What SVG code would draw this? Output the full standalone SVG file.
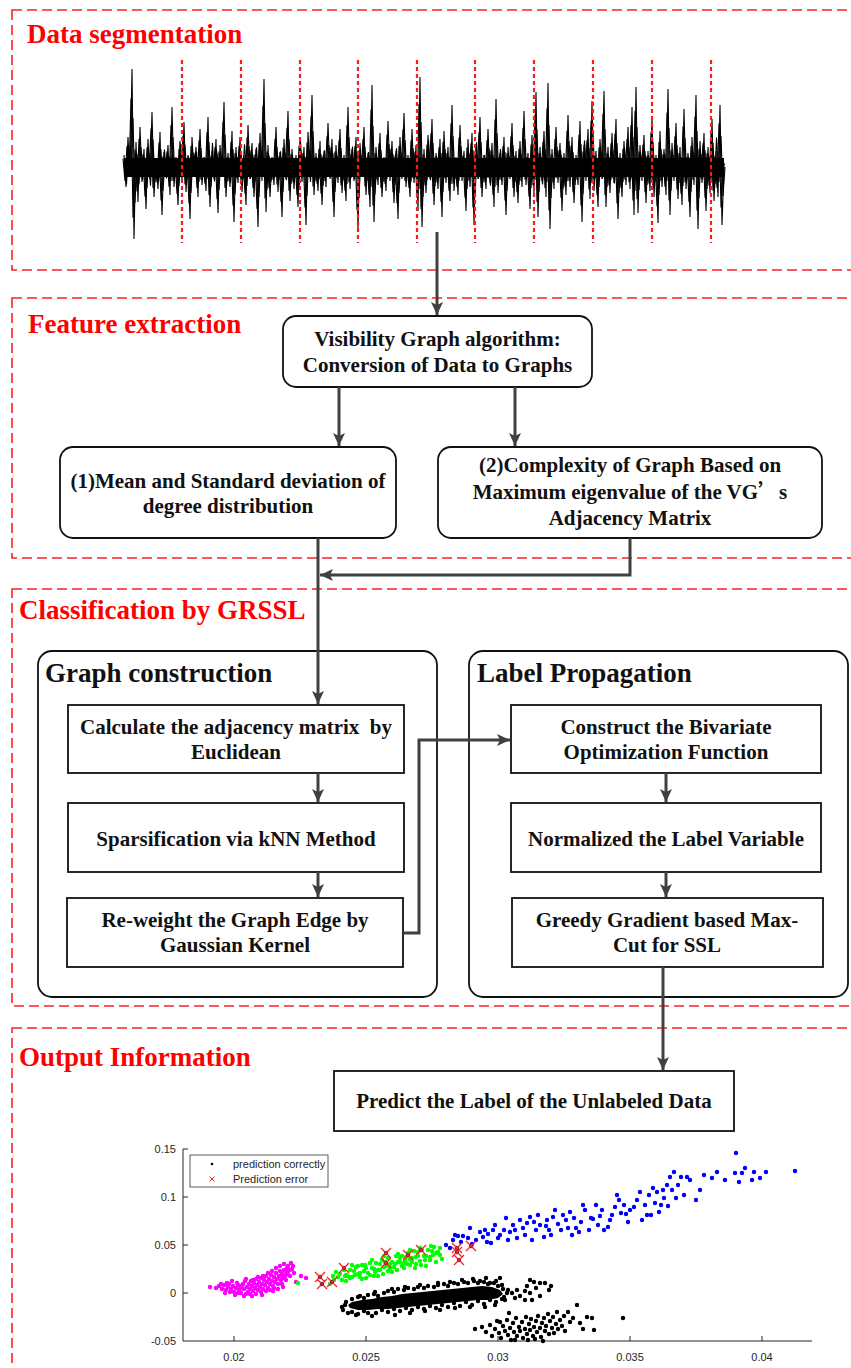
<svg xmlns="http://www.w3.org/2000/svg" xmlns:xlink="http://www.w3.org/1999/xlink" width="851" height="1368" viewBox="0 0 851 1368">
<style>
.sec{fill:none;stroke:#ff2020;stroke-width:1.6;stroke-dasharray:10 5}
.stitle{font-family:"Liberation Serif","Times New Roman",serif;font-weight:bold;font-size:27px;fill:#ff0000}
.ptitle{font-family:"Liberation Serif","Times New Roman",serif;font-weight:bold;font-size:27px;fill:#111}
.bt{font-family:"Liberation Serif","Times New Roman",serif;font-weight:bold;font-size:21px;fill:#111;text-anchor:middle}
.box{fill:#fff;stroke:#111;stroke-width:1.8}
.conn{fill:none;stroke:#404040;stroke-width:3}
.ax{font-family:"Liberation Sans",Arial,sans-serif;font-size:11px;fill:#262626}
.dots{fill:none;stroke-linecap:round;stroke-width:4.4}
</style>
<defs>
<marker id="ah" markerUnits="userSpaceOnUse" markerWidth="14" markerHeight="12" refX="13" refY="6" orient="auto">
<path d="M0,0 L13,6 L0,12 L3,6 z" fill="#404040"/>
</marker>
<polyline id="sig" fill="none" stroke="#000" stroke-width="1.1" stroke-linejoin="bevel" vector-effect="non-scaling-stroke" points="124,155 126,187 128,137 130,177 132,69 134,239 136,142 138,202 140,127 142,182 144,149 146,209 148,139 150,179 152,112 154,197 156,159 158,189 160,132 162,215 164,152 166,177 168,145 170,195 172,107 174,187 176,157 178,205 180,141 182,181 184,122 186,192 188,155 190,219 192,137 194,175 196,147 198,197 200,129 202,185 204,157 206,191 208,117 210,207 212,151 214,179 216,139 218,213 220,145 222,177 224,102 226,197 228,153 230,187 232,131 234,222 236,147 238,183 240,137 242,192 244,155 246,205 248,125 250,179 252,143 254,197 256,149 258,227 260,133 262,181 264,79 266,212 268,145 270,197 272,157 274,185 276,127 278,192 280,152 282,217 284,139 286,179 288,111 290,201 292,149 294,189 296,155 298,207 300,137 302,182 304,147 306,225 308,132 310,177 312,95 314,195 316,153 318,191 320,141 322,205 324,151 326,187 328,123 330,179 332,139 334,217 336,145 338,183 340,129 342,193 344,155 346,201 348,107 350,189 352,149 354,181 356,137 358,229 360,143 362,177 364,127 366,195 368,153 370,207 372,85 374,222 376,147 378,185 380,133 382,197 384,157 386,191 388,121 390,181 392,141 394,203 396,151 398,219 400,137 402,179 404,113 406,187 408,155 410,197 412,129 414,183 416,145 418,211 420,77 422,227 424,149 426,193 428,135 430,179 432,119 434,205 436,153 438,189 440,139 442,217 444,131 446,183 448,147 450,201 452,105 454,191 456,157 458,195 460,125 462,181 464,151 466,211 468,139 470,187 472,133 474,225 476,145 478,179 480,117 482,197 484,155 486,189 488,129 490,183 492,143 494,207 496,99 498,193 500,153 502,185 504,137 506,215 508,147 510,179 512,123 514,197 516,151 518,203 520,141 522,187 524,111 526,185 528,153 530,209 532,135 534,193 536,92 538,217 540,147 542,181 544,131 546,197 548,83 550,229 552,149 554,189 556,127 558,183 560,143 562,211 564,153 566,195 568,115 570,187 572,137 574,203 576,155 578,185 580,121 582,222 584,145 586,181 588,129 590,199 592,101 594,191 596,151 598,207 600,139 602,179 604,91 606,207 608,147 610,193 612,133 614,183 616,119 618,219 620,153 622,197 624,141 626,185 628,127 630,189 632,107 634,215 636,87 638,213 640,145 642,181 644,135 646,203 648,151 650,191 652,117 654,197 656,155 658,223 660,131 662,187 664,149 666,195 668,89 670,215 672,143 674,181 676,123 678,199 680,147 682,205 684,109 686,189 688,153 690,217 692,137 694,185 696,95 698,229 700,141 702,183 704,133 706,211 708,147 710,193 712,119 714,201 716,151 718,197 720,105 722,225 724,167"/>
</defs>
<rect width="851" height="1368" fill="#fff"/>

<g id="sections">
<rect class="sec" x="12" y="10" width="870" height="260"/>
<rect class="sec" x="12" y="298" width="870" height="260"/>
<rect class="sec" x="12" y="589" width="870" height="417"/>
<rect class="sec" x="12" y="1028" width="870" height="400"/>
<text class="stitle" x="27" y="43">Data segmentation</text>
<text class="stitle" x="28" y="333">Feature extraction</text>
<text class="stitle" x="19" y="619">Classification by GRSSL</text>
<text class="stitle" x="19" y="1066">Output Information</text>
</g>

<g id="signal">
<rect x="124" y="158" width="600" height="19" fill="#000"/>
<use xlink:href="#sig" href="#sig"/>
<use xlink:href="#sig" href="#sig" transform="translate(1,83.5) scale(1,0.5)"/>
<use xlink:href="#sig" href="#sig" transform="translate(-1,50.1) scale(1,0.7)"/>
<use xlink:href="#sig" href="#sig" transform="translate(0.5,116.9) scale(-1,0.3) translate(-848,0)"/>
<path d="M182 60V243M241 60V243M300 60V243M358 60V243M417 60V243M475 60V243M534 60V243M593 60V243M652 60V243M711 60V243" stroke="#ff1a1a" stroke-width="2.2" stroke-dasharray="4 3"/>
</g>

<g id="node-vg">
<rect class="box" x="283" y="316" width="309" height="71" rx="13"/>
<text class="bt" x="437.5" y="346">Visibility Graph algorithm:</text>
<text class="bt" x="437.5" y="372">Conversion of Data to Graphs</text>
</g>
<g id="node-mean">
<rect class="box" x="60" y="447" width="336" height="91" rx="13"/>
<text class="bt" x="228" y="488">(1)Mean and Standard deviation of</text>
<text class="bt" x="228" y="513">degree distribution</text>
</g>
<g id="node-complexity">
<rect class="box" x="438" y="447" width="384" height="91" rx="13"/>
<text class="bt" x="630" y="472">(2)Complexity of Graph Based on</text>
<text class="bt" x="630" y="499">Maximum eigenvalue of the VG<tspan font-family="'Noto Sans CJK SC',sans-serif">’</tspan>s</text>
<text class="bt" x="630" y="525">Adjacency Matrix</text>
</g>

<g id="panel-graph">
<rect class="box" x="38" y="651" width="399" height="346" rx="14"/>
<text class="ptitle" x="45" y="682">Graph construction</text>
</g>
<g id="panel-label">
<rect class="box" x="469" y="651" width="379" height="346" rx="14"/>
<text class="ptitle" x="477" y="682">Label Propagation</text>
</g>

<g id="node-calc">
<rect class="box" x="68" y="705" width="336" height="68"/>
<text class="bt" x="236" y="734">Calculate the adjacency matrix&#160; by</text>
<text class="bt" x="236" y="759">Euclidean</text>
</g>
<g id="node-sparse">
<rect class="box" x="68" y="803" width="336" height="69"/>
<text class="bt" x="236" y="846">Sparsification via kNN Method</text>
</g>
<g id="node-reweight">
<rect class="box" x="67" y="898" width="336" height="69"/>
<text class="bt" x="235" y="927">Re-weight the Graph Edge by</text>
<text class="bt" x="235" y="952">Gaussian Kernel</text>
</g>
<g id="node-construct">
<rect class="box" x="511" y="705" width="310" height="68"/>
<text class="bt" x="666" y="734">Construct the Bivariate</text>
<text class="bt" x="666" y="759">Optimization Function</text>
</g>
<g id="node-normalized">
<rect class="box" x="511" y="803" width="310" height="69"/>
<text class="bt" x="666" y="846">Normalized the Label Variable</text>
</g>
<g id="node-greedy">
<rect class="box" x="512" y="898" width="311" height="69"/>
<text class="bt" x="667" y="927">Greedy Gradient based Max-</text>
<text class="bt" x="667" y="952">Cut for SSL</text>
</g>
<g id="node-predict">
<rect class="box" x="334" y="1071" width="400" height="60"/>
<text class="bt" x="534" y="1108">Predict the Label of the Unlabeled Data</text>
</g>

<g id="connectors">
<path class="conn" d="M437 232V315" marker-end="url(#ah)"/>
<path class="conn" d="M339 387V446" marker-end="url(#ah)"/>
<path class="conn" d="M515 387V446" marker-end="url(#ah)"/>
<path class="conn" d="M318 538V704" marker-end="url(#ah)"/>
<path class="conn" d="M630 538V575H320" marker-end="url(#ah)"/>
<path class="conn" d="M318 773V802" marker-end="url(#ah)"/>
<path class="conn" d="M318 872V897" marker-end="url(#ah)"/>
<path class="conn" d="M403 933H419V740H510" marker-end="url(#ah)"/>
<path class="conn" d="M666 773V802" marker-end="url(#ah)"/>
<path class="conn" d="M666 872V897" marker-end="url(#ah)"/>
<path class="conn" d="M663 967V1070" marker-end="url(#ah)"/>
</g>

<g id="scatter">
<path d="M183 1149V1341H812M183 1149h5M183 1197h5M183 1245h5M183 1293h5M234 1341v-5M366 1341v-5M498 1341v-5M630 1341v-5M762 1341v-5" fill="none" stroke="#262626" stroke-width="1"/>
<text class="ax" x="176" y="1153" text-anchor="end">0.15</text>
<text class="ax" x="176" y="1201" text-anchor="end">0.1</text>
<text class="ax" x="176" y="1249" text-anchor="end">0.05</text>
<text class="ax" x="176" y="1297" text-anchor="end">0</text>
<text class="ax" x="176" y="1345" text-anchor="end">-0.05</text>
<text class="ax" x="234" y="1361" text-anchor="middle">0.02</text>
<text class="ax" x="366" y="1361" text-anchor="middle">0.025</text>
<text class="ax" x="498" y="1361" text-anchor="middle">0.03</text>
<text class="ax" x="630" y="1361" text-anchor="middle">0.035</text>
<text class="ax" x="762" y="1361" text-anchor="middle">0.04</text>

<path class="dots" stroke="#ff00ff" d="M210 1287h0M216 1288h0M219 1286h0M222 1289h0M224 1285h0M226 1290h0M228 1287h0M229 1284h0M231 1289h0M233 1286h0M234 1292h0M236 1288h0M237 1283h0M239 1290h0M240 1286h0M241 1293h0M243 1284h0M244 1289h0M245 1281h0M247 1287h0M248 1292h0M249 1284h0M250 1289h0M251 1281h0M252 1286h0M253 1291h0M254 1283h0M255 1288h0M256 1279h0M257 1285h0M258 1290h0M259 1282h0M260 1287h0M261 1278h0M262 1284h0M263 1289h0M264 1280h0M265 1285h0M266 1276h0M267 1282h0M268 1288h0M269 1279h0M270 1284h0M271 1275h0M272 1281h0M273 1286h0M274 1277h0M275 1282h0M276 1273h0M277 1279h0M278 1284h0M279 1276h0M280 1271h0M281 1280h0M282 1274h0M283 1278h0M284 1270h0M285 1276h0M286 1272h0M287 1268h0M288 1274h0M289 1270h0M290 1276h0M292 1269h0M294 1273h0M296 1282h0M301 1276h0M306 1278h0M221 1284h0M225 1293h0M227 1283h0M230 1292h0M232 1281h0M235 1295h0M238 1285h0M242 1288h0M246 1294h0M246 1279h0M250 1294h0M253 1280h0M256 1294h0M258 1277h0M261 1292h0M263 1276h0M266 1291h0M268 1273h0M270 1290h0M272 1271h0M274 1288h0M276 1268h0M278 1289h0M280 1266h0M282 1284h0M284 1264h0M286 1280h0M288 1266h0M290 1270h0M291 1263h0M293 1266h0M283 1287h0M273 1291h0M262 1295h0M252 1296h0M244 1296h0M238 1293h0"/>
<path class="dots" stroke="#00ff00" d="M298 1283h0M334 1280h0M336 1272h0M338 1277h0M340 1274h0M342 1280h0M344 1270h0M346 1275h0M348 1276h0M350 1270h0M352 1277h0M354 1271h0M356 1267h0M358 1274h0M360 1273h0M362 1265h0M364 1271h0M366 1268h0M368 1273h0M370 1263h0M372 1268h0M374 1269h0M376 1263h0M378 1270h0M380 1264h0M382 1260h0M384 1267h0M386 1266h0M388 1258h0M390 1264h0M392 1262h0M394 1267h0M396 1256h0M398 1262h0M400 1262h0M402 1256h0M404 1263h0M406 1257h0M408 1253h0M410 1259h0M412 1258h0M414 1251h0M416 1257h0M418 1256h0M420 1261h0M422 1250h0M424 1256h0M426 1256h0M428 1250h0M430 1257h0M432 1251h0M434 1247h0M436 1253h0M438 1252h0M440 1248h0M345 1276h0M355 1275h0M365 1265h0M375 1272h0M385 1262h0M395 1264h0M405 1260h0M412 1262h0M418 1252h0M425 1260h0M433 1255h0M370 1275h0M360 1277h0M380 1270h0M390 1268h0M400 1258h0M350 1278h0M388 1271h0M402 1266h0M410 1265h0M416 1264h0M430 1260h0M440 1255h0M330 1284h0M333 1276h0M346 1281h0M352 1265h0M358 1266h0M366 1278h0M372 1260h0M378 1276h0M384 1256h0M392 1272h0M398 1254h0M404 1268h0M410 1250h0M415 1268h0M420 1248h0M426 1266h0M431 1246h0M436 1262h0M442 1259h0M397 1270h0M383 1274h0M374 1276h0M362 1279h0M407 1264h0M421 1265h0"/>
<path class="dots" stroke="#0000ff" d="M446 1245h0M453 1240h0M461 1242h0M468 1238h0M470 1228h0M476 1240h0M483 1237h0M485 1230h0M491 1243h0M493 1230h0M498 1238h0M504 1230h0M506 1218h0M513 1225h0M517 1238h0M523 1228h0M530 1217h0M532 1240h0M536 1230h0M540 1225h0M544 1237h0M549 1230h0M553 1217h0M555 1210h0M561 1230h0M566 1220h0M570 1212h0M572 1235h0M576 1228h0M581 1222h0M585 1210h0M589 1230h0M596 1205h0M604 1230h0M608 1227h0M615 1207h0M619 1200h0M621 1213h0M630 1210h0M634 1207h0M640 1192h0M642 1220h0M647 1215h0M649 1195h0M653 1188h0M655 1203h0M659 1212h0M664 1198h0M670 1177h0M674 1172h0M676 1198h0M681 1177h0M687 1177h0M696 1200h0M704 1175h0M717 1172h0M736 1153h0M735 1173h0M739 1182h0M742 1173h0M752 1180h0M754 1172h0M766 1172h0M795 1171h0M458 1236h0M488 1234h0M510 1232h0M527 1223h0M546 1226h0M558 1224h0M593 1219h0M600 1216h0M612 1215h0M626 1214h0M663 1190h0M668 1206h0M450 1248h0M455 1235h0M463 1236h0M472 1244h0M480 1232h0M487 1242h0M495 1225h0M500 1235h0M508 1240h0M515 1230h0M520 1220h0M525 1235h0M534 1222h0M538 1215h0M547 1220h0M551 1235h0M563 1215h0M568 1228h0M574 1218h0M579 1232h0M583 1205h0M591 1218h0M598 1225h0M602 1210h0M610 1220h0M617 1195h0M624 1205h0M628 1222h0M637 1200h0M645 1205h0M651 1215h0M657 1192h0M661 1205h0M667 1185h0M672 1190h0M678 1185h0M684 1195h0M690 1180h0M700 1190h0M712 1178h0M725 1180h0M745 1168h0M760 1178h0"/>
<polygon fill="#000" points="352,1302 362,1300 372,1299 382,1297 392,1296 402,1294 412,1293 422,1292 432,1291 442,1290 452,1289 462,1288 472,1287 482,1286 492,1287 500,1290 503,1294 498,1298 488,1300 478,1300 468,1301 458,1302 448,1303 438,1304 428,1305 418,1306 408,1307 398,1308 388,1309 378,1309 368,1310 358,1310 350,1308 348,1305"/>
<path class="dots" stroke="#000" d="M352 1299h0M358 1297h0M364 1298h0M368 1295h0M374 1294h0M378 1296h0M384 1293h0M388 1291h0M394 1292h0M398 1289h0M404 1290h0M408 1288h0M414 1289h0M418 1287h0M424 1288h0M428 1286h0M434 1287h0M438 1285h0M444 1284h0M448 1286h0M454 1283h0M458 1284h0M464 1282h0M468 1283h0M474 1281h0M478 1283h0M484 1282h0M488 1284h0M494 1283h0M498 1286h0M503 1289h0M507 1293h0M504 1297h0M352 1312h0M358 1314h0M364 1311h0M368 1313h0M376 1313h0M382 1310h0M388 1312h0M394 1309h0M400 1311h0M406 1308h0M412 1310h0M418 1307h0M424 1309h0M430 1306h0M436 1308h0M442 1305h0M448 1307h0M454 1303h0M460 1306h0M466 1302h0M472 1305h0M478 1301h0M484 1304h0M490 1300h0M496 1302h0M502 1299h0M346 1302h0M342 1307h0M345 1305h0M343 1310h0M348 1313h0M356 1315h0M372 1316h0M395 1315h0M410 1313h0M360 1296h0M375 1292h0M392 1289h0M405 1287h0M420 1285h0M438 1283h0M450 1282h0M462 1280h0M473 1279h0M480 1281h0M490 1283h0M496 1281h0M502 1285h0M508 1290h0M512 1293h0M515 1298h0M520 1296h0M525 1291h0M530 1293h0M532 1300h0M536 1288h0M540 1296h0M545 1283h0M549 1290h0M551 1286h0M527 1286h0M517 1290h0M505 1300h0M495 1305h0M485 1307h0M470 1307h0M455 1308h0M440 1310h0M425 1311h0M500 1278h0M486 1278h0M525 1300h0M540 1283h0M530 1280h0M534 1282h0M475 1329h0M482 1327h0M486 1332h0M490 1325h0M492 1336h0M495 1329h0M497 1321h0M499 1333h0M501 1338h0M503 1326h0M505 1331h0M507 1320h0M508 1335h0M510 1328h0M511 1340h0M513 1323h0M514 1332h0M516 1318h0M517 1336h0M519 1327h0M520 1331h0M522 1322h0M523 1338h0M525 1329h0M526 1317h0M527 1334h0M529 1324h0M530 1330h0M531 1319h0M533 1336h0M534 1327h0M536 1321h0M537 1332h0M538 1316h0M540 1328h0M541 1337h0M542 1323h0M544 1318h0M545 1331h0M546 1326h0M548 1314h0M549 1334h0M550 1321h0M552 1328h0M553 1317h0M554 1333h0M556 1324h0M557 1312h0M558 1329h0M560 1320h0M562 1326h0M564 1316h0M565 1331h0M568 1312h0M570 1322h0M573 1318h0M577 1305h0M580 1323h0M583 1329h0M587 1317h0M592 1318h0M594 1330h0M623 1318h0M509 1313h0M543 1341h0M500 1322h0M515 1340h0M528 1340h0M535 1339h0"/>
<path class="dots" stroke="#3a2a6a" stroke-width="4" d="M320 1277h0M322 1284h0M332 1282h0M344 1268h0M386 1253h0M386 1263h0M408 1255h0M421 1250h0M457 1248h0M457 1252h0M459 1260h0M471 1246h0"/>
<path fill="none" stroke="#ff2020" stroke-width="1.3" d="M315 1272l10 10m0-10l-10 10M317 1279l10 10m0-10l-10 10M327 1277l10 10m0-10l-10 10M339 1263l10 10m0-10l-10 10M381 1248l10 10m0-10l-10 10M381 1258l10 10m0-10l-10 10M403 1250l10 10m0-10l-10 10M416 1245l10 10m0-10l-10 10M452 1243l10 10m0-10l-10 10M452 1247l10 10m0-10l-10 10M454 1255l10 10m0-10l-10 10M466 1241l10 10m0-10l-10 10"/>

<g id="legend">
<rect x="190" y="1155" width="138" height="32" fill="#fff" stroke="#333" stroke-width="0.8"/>
<circle cx="212" cy="1164" r="1.3" fill="#000"/>
<path d="M209.5 1176.5l5 5m0-5l-5 5" stroke="#ff2020" stroke-width="1"/>
<text class="ax" x="233" y="1168" font-size="10">prediction correctly</text>
<text class="ax" x="233" y="1183" font-size="10">Prediction error</text>
</g>
</g>
</svg>
